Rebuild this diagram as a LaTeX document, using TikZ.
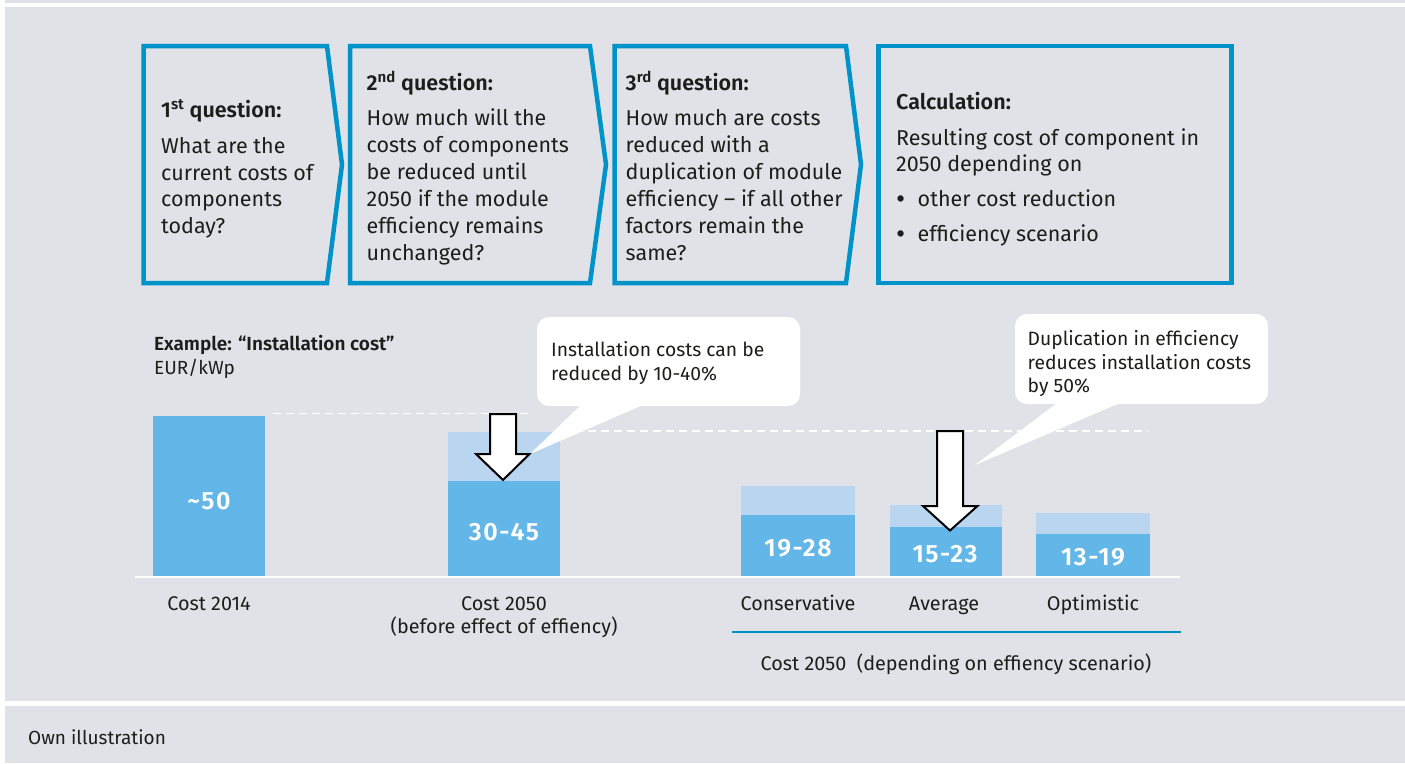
\documentclass[tikz,border=0pt]{standalone}
\usepackage{fontspec}
\setmainfont{Fira Sans}[BoldFont={Fira Sans SemiBold}]
\definecolor{bggray}{HTML}{E1E2E7}
\definecolor{boxblue}{HTML}{0093C9}
\definecolor{bardark}{HTML}{62B7E8}
\definecolor{barlight}{HTML}{BAD5F0}
\definecolor{ink}{HTML}{1D1D1B}
\begin{document}
\begin{tikzpicture}[x=1pt,y=-1pt,
  qbox/.style={draw=boxblue, line width=4.5pt, line join=miter},
  qtxt/.style={anchor=base west, inner sep=0pt, text=ink, font=\fontsize{21.5}{27}\selectfont},
  qhead/.style={qtxt, font=\fontsize{21.5}{27}\selectfont\bfseries},
  bul/.style={anchor=base west, inner sep=0pt, text=ink, font=\fontsize{28}{27}\selectfont},
  ctxt/.style={anchor=base, inner sep=0pt, text=ink, font=\fontsize{19.8}{24}\selectfont},
  ltxt/.style={anchor=base west, inner sep=0pt, text=ink, font=\fontsize{19.3}{24}\selectfont},
  bartxt/.style={anchor=base, inner sep=0pt, text=white, font=\fontsize{25}{30}\selectfont\bfseries\addfontfeature{LetterSpace=6}},
  darkbar/.style={fill=bardark},
  lightbar/.style={fill=barlight},
  guide/.style={draw=white, line width=1.5pt, dash pattern=on 8pt off 5pt},
  blockarrow/.style={fill=white, draw=black, line width=2pt, line join=miter},
  callout/.style={fill=white}
]
\useasboundingbox (0,0) rectangle (1405,763);
% background
\fill[white] (0,0) rectangle (1405,763);
\fill[bggray] (5,0) rectangle (1405,2.6);
\fill[bggray] (5,7.3) rectangle (1405,700.8);
\fill[bggray] (5,706) rectangle (1405,763);

% question boxes
\draw[qbox] (143.5,46) -- (327,46) -- (342,164.5) -- (327,283) -- (143.5,283) -- cycle;
\draw[qbox] (350,46) -- (590,46) -- (606,164.5) -- (590,283) -- (350,283) -- cycle;
\draw[qbox] (614.5,46) -- (846,46) -- (861,164.5) -- (846,283) -- (614.5,283) -- cycle;
\draw[qbox] (878.5,46) rectangle (1231.5,283);

% box 1 text
\node[qhead] (q1h) at (161,117) {1\textsuperscript{st} question:};
\node[qtxt] (q1a) at (161,153) {What are the};
\node[qtxt] (q1b) at (161,180) {current costs of};
\node[qtxt] (q1c) at (161,206.5) {components};
\node[qtxt] (q1d) at (161,233) {today?};

% box 2 text
\node[qhead] (q2h) at (366.5,90.5) {2\textsuperscript{nd} question:};
\node[qtxt] (q2a) at (366.5,125) {How much will the};
\node[qtxt] (q2b) at (366.5,152) {costs of components};
\node[qtxt] (q2c) at (366.5,179) {be reduced until};
\node[qtxt] (q2d) at (366.5,206) {2050 if the module};
\node[qtxt] (q2e) at (366.5,233) {efficiency remains};
\node[qtxt] (q2f) at (366.5,260) {unchanged?};

% box 3 text
\node[qhead] (q3h) at (625.5,90.5) {3\textsuperscript{rd} question:};
\node[qtxt] (q3a) at (625.5,125) {How much are costs};
\node[qtxt] (q3b) at (625.5,152) {reduced with a};
\node[qtxt] (q3c) at (625.5,179) {duplication of module};
\node[qtxt] (q3d) at (625.5,206) {efficiency -- if all other};
\node[qtxt] (q3e) at (625.5,233) {factors remain the};
\node[qtxt] (q3f) at (625.5,260) {same?};

% box 4 text
\node[qhead] (c4h) at (896,109) {Calculation:};
\node[qtxt] (c4a) at (896,145) {Resulting cost of component in};
\node[qtxt] (c4b) at (896,171.5) {2050 depending on};
\node[bul] (c4c) at (896,208.5) {\textbullet};
\node[qtxt] (c4d) at (917.5,206.5) {other cost reduction};
\node[bul] (c4e) at (896,243.5) {\textbullet};
\node[qtxt] (c4f) at (917.5,241.5) {efficiency scenario};

% chart heading
\node[ltxt, font=\fontsize{19}{24}\selectfont\bfseries] (exh) at (154,350.5) {Example: \textquotedblleft Installation cost\textquotedblright};
\node[ltxt, font=\fontsize{19}{24}\selectfont] (exu) at (154,374) {EUR/kWp};

% guide lines
\draw[guide] (273,413.5) -- (528,413.5);
\draw[guide] (562,431) -- (1148,431);

% bars
\fill[darkbar] (153,416) rectangle (265,576);
\fill[lightbar] (448,432) rectangle (560,481);
\fill[darkbar] (448,481) rectangle (560,576);
\fill[lightbar] (741,486) rectangle (855,515);
\fill[darkbar] (741,515) rectangle (855,576);
\fill[lightbar] (890,505) rectangle (1002,527);
\fill[darkbar] (890,527) rectangle (1002,576);
\fill[lightbar] (1036,513) rectangle (1150,534);
\fill[darkbar] (1036,534) rectangle (1150,576);

\node[bartxt] (b1) at (209,509) {\char`~50};
\node[bartxt] (b2) at (504,540) {30-45};
\node[bartxt] (b3) at (798,556.5) {19-28};
\node[bartxt] (b4) at (945,562) {15-23};
\node[bartxt] (b5) at (1093,565.5) {13-19};

% axis
\draw[white, line width=2pt] (135,576.8) -- (1180,576.8);
\draw[boxblue, line width=2pt] (732,632) -- (1181,632);

% labels
\node[ctxt] (l1) at (209,610) {Cost 2014};
\node[ctxt] (l2) at (504,610) {Cost 2050};
\node[ctxt] (l2b) at (504,633) {(before effect of effiency)};
\node[ctxt] (l3) at (798,610) {Conservative};
\node[ctxt] (l4) at (944,610) {Average};
\node[ctxt] (l5) at (1093,610) {Optimistic};
\node[ctxt] (l6) at (956,670) {Cost 2050\ \ (depending on effiency scenario)};

% callout 1
\fill[callout, rounded corners=12pt] (537,317) rectangle (800,406);
\fill[callout] (581,405) -- (530,454) -- (643,405) -- cycle;
\node[ltxt] (co1a) at (551,356.5) {Installation costs can be};
\node[ltxt] (co1b) at (551,380.5) {reduced by 10-40\%};

% callout 2
\fill[callout, rounded corners=12pt] (1015,314) rectangle (1268,404);
\fill[callout] (1057,403) -- (975,465) -- (1120,403) -- cycle;
\node[ltxt] (co2a) at (1027.5,345) {Duplication in efficiency};
\node[ltxt] (co2b) at (1027.5,369) {reduces installation costs};
\node[ltxt] (co2c) at (1027.5,392.5) {by 50\%};

% block arrows
\draw[blockarrow] (490,414) -- (516,414) -- (516,454) -- (529.5,454) -- (503,480) -- (476,454) -- (490,454) -- cycle;
\draw[blockarrow] (937,431) -- (963,431) -- (963,506) -- (977.5,506) -- (950,530.5) -- (923,506) -- (937,506) -- cycle;

% footer
\node[ltxt, font=\fontsize{19}{24}\selectfont] (foot) at (28,744) {Own illustration};
\end{tikzpicture}
\end{document}
